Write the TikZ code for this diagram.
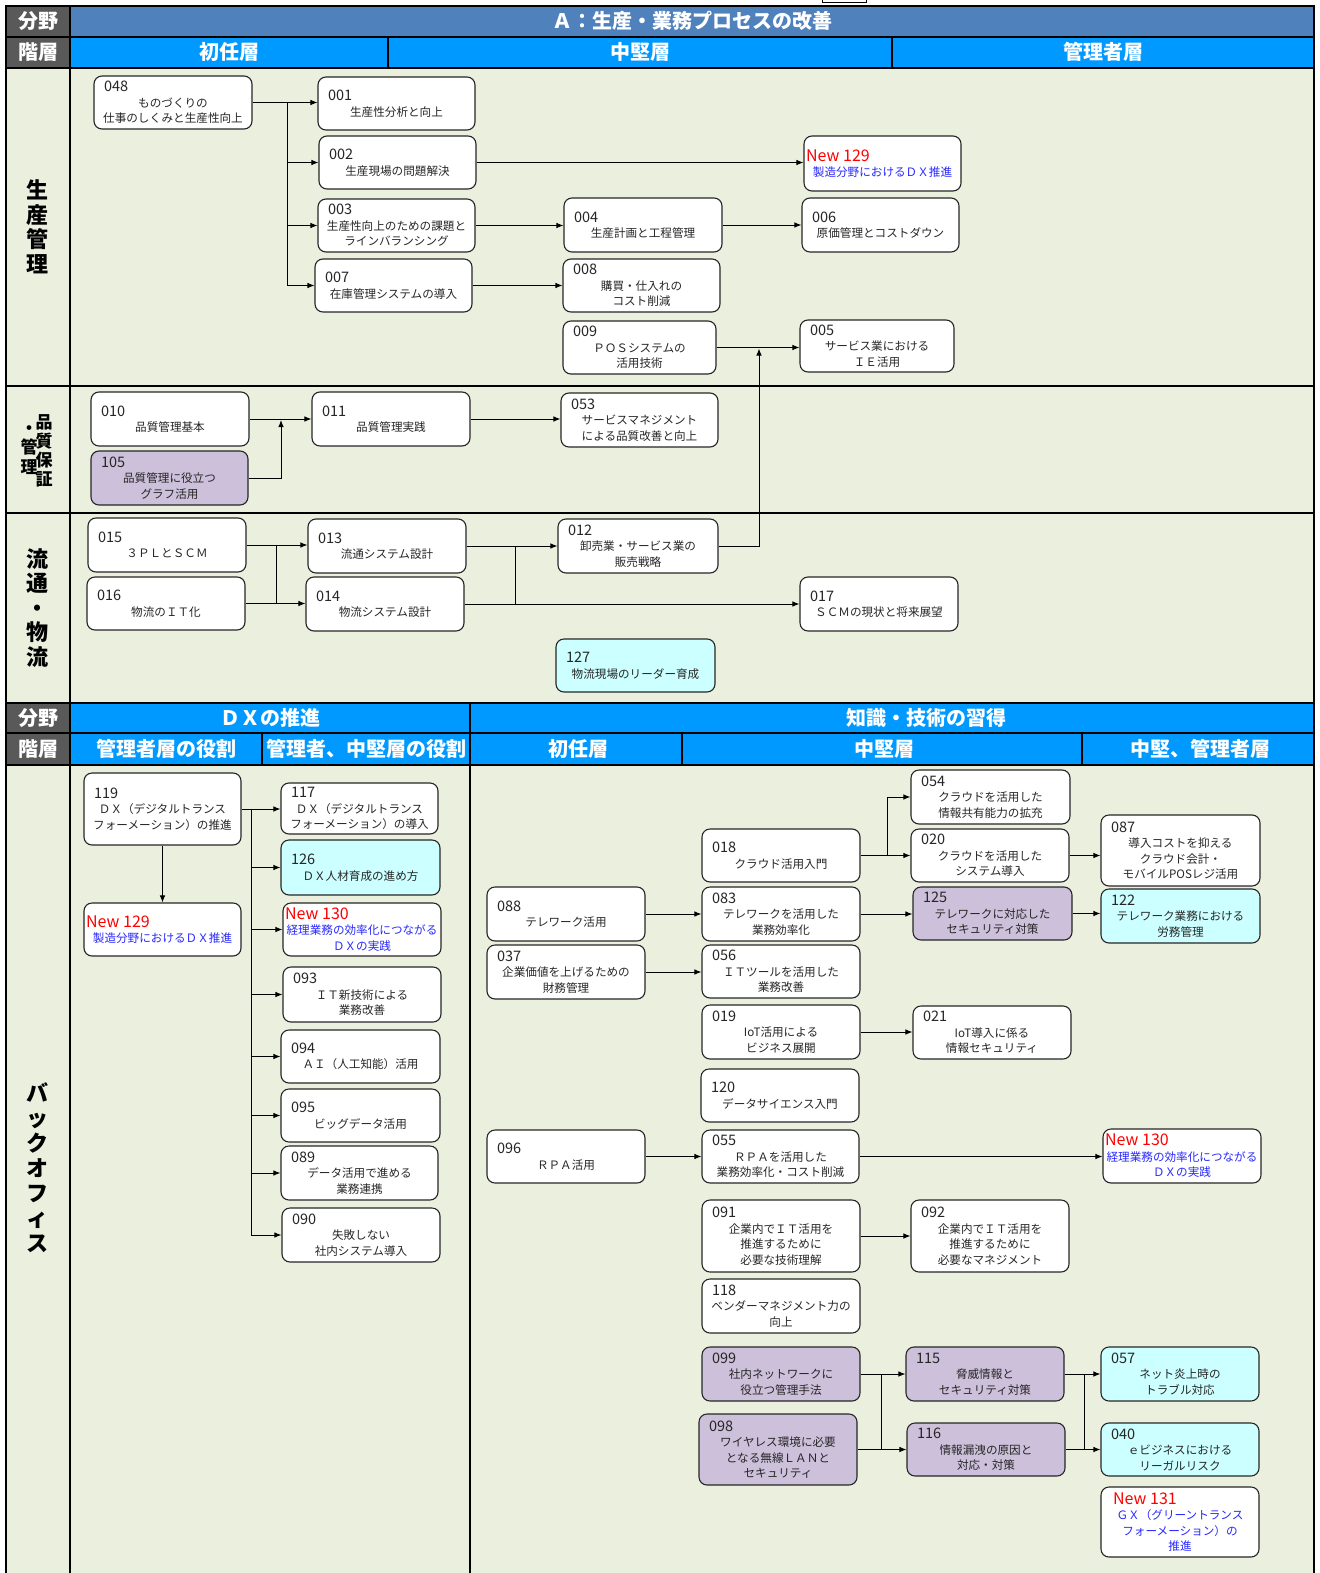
\documentclass[tikz,border=0pt]{standalone}
\usepackage{fontspec}
\setmainfont{Noto Sans CJK JP}
\usetikzlibrary{arrows.meta}
\definecolor{hdrgray}{RGB}{89,89,89}
\definecolor{steel}{RGB}{79,129,189}
\definecolor{bblue}{RGB}{0,153,255}
\definecolor{bgc}{RGB}{235,239,222}
\definecolor{purp}{RGB}{204,192,218}
\definecolor{cyanf}{RGB}{204,255,255}
\definecolor{newred}{RGB}{255,0,0}
\definecolor{newblue}{RGB}{40,40,255}
\tikzset{
 box/.style={draw=black!85, line width=1.1pt, rounded corners=8pt, inner sep=0pt, align=center, font=\fontsize{11.6}{15.5}\selectfont, text=black!85},
 arr/.style={-{Latex[length=7pt,width=5.5pt]}, line width=0.9pt},
 ln/.style={line width=0.9pt},
 gridl/.style={line width=2.4pt},
 hdr/.style={text=white, inner sep=0pt, font=\bfseries\fontsize{20}{22}\selectfont},
 vlab/.style={align=center, inner sep=0pt, font=\bfseries\fontsize{22}{24.5}\selectfont},
}
\newcommand\bx[8]{\node[box,fill=#6,minimum width={(#4-#2)*1pt},minimum height={(#5-#3)*1pt},text width={(#4-#2-4)*1pt}] (#1) at ({(#2+#4)/2},{(#3+#5)/2}) {\makebox[\hsize][l]{\hspace*{8pt}\fontsize{14.5}{15.5}\selectfont #7}\\#8};}
\newcommand\bxn[8]{\node[box,fill=white,minimum width={(#4-#2)*1pt},minimum height={(#5-#3)*1pt},text width={(#4-#2-4)*1pt}] (#1) at ({(#2+#4)/2},{(#3+#5)/2}) {\makebox[\hsize][l]{\hspace*{#8}\textcolor{newred}{\fontsize{16}{17}\selectfont New #6}}\\{\color{newblue}#7}};}
\begin{document}
\begin{tikzpicture}[x=1pt,y=-1pt]
\useasboundingbox (0,0) rectangle (1319,1573);
% backgrounds
\fill[hdrgray] (6,6) rectangle (70,68);
\fill[hdrgray] (6,703) rectangle (70,765);
\fill[steel] (70,6) rectangle (1314,37);
\fill[bblue] (70,37) rectangle (1314,68);
\fill[bblue] (70,703) rectangle (1314,765);
\fill[bgc] (6,68) rectangle (1314,703);
\fill[bgc] (6,765) rectangle (1314,1573);
% small clipped box on top
\draw[line width=1pt, fill=white] (822,-3) rectangle (866,3);
% grid lines
\draw[gridl] (4.8,6) -- (1315.2,6);
\foreach \yy in {37,68,386,513,703,733,765} {\draw[gridl] (6,\yy) -- (1314,\yy);}
\draw[gridl] (6,6) -- (6,1573);
\draw[gridl] (70,6) -- (70,1573);
\draw[gridl] (1314,6) -- (1314,1573);
\draw[gridl] (388,37) -- (388,68);
\draw[gridl] (892,37) -- (892,68);
\draw[gridl] (470,703) -- (470,1573);
\draw[gridl] (262,733) -- (262,765);
\draw[gridl] (682,733) -- (682,765);
\draw[gridl] (1082,733) -- (1082,765);
% header texts
\node[hdr] (h1) at (38,21) {分野};
\node[hdr] (h2) at (38,52) {階層};
\node[hdr] (h3) at (692,21) {Ａ：生産・業務プロセスの改善};
\node[hdr] (h4) at (229,52) {初任層};
\node[hdr] (h5) at (640,52) {中堅層};
\node[hdr] (h6) at (1103,52) {管理者層};
\node[hdr] (h7) at (38,718) {分野};
\node[hdr] (h8) at (38,749) {階層};
\node[hdr] (h9) at (270,718) {ＤＸの推進};
\node[hdr] (h10) at (926,718) {知識・技術の習得};
\node[hdr] (h11) at (166,749) {管理者層の役割};
\node[hdr] (h12) at (366,749) {管理者、中堅層の役割};
\node[hdr] (h13) at (578,749) {初任層};
\node[hdr] (h14) at (884,749) {中堅層};
\node[hdr] (h15) at (1200,749) {中堅、管理者層};
% vertical labels
\node[vlab] (v1) at (38,227) {生\\産\\管\\理};
\node[vlab, font=\bfseries\fontsize{17}{19}\selectfont] (v2a) at (44,451) {品\\質\\保\\証};
\node[vlab, font=\bfseries\fontsize{17}{19.5}\selectfont] (v2b) at (29,450) {・\\管\\理};
\node[vlab] (v3) at (38,608) {流\\通\\・\\物\\流};
\node[vlab, font=\bfseries\fontsize{22}{25}\selectfont] (v4) at (38,1168) {バ\\ッ\\ク\\オ\\フ\\ィ\\ス};
% ---- section 1
\bx{n048}{94}{76}{252}{129}{white}{048}{ものづくりの\\仕事のしくみと生産性向上}
\bx{n001}{318}{77}{475}{130}{white}{001}{生産性分析と向上}
\bx{n002}{319}{136}{476}{189}{white}{002}{生産現場の問題解決}
\bx{n003}{318}{199}{475}{252}{white}{003}{生産性向上のための課題と\\ラインバランシング}
\bx{n007}{315}{259}{472}{312}{white}{007}{在庫管理システムの導入}
\bx{n004}{564}{198}{722}{252}{white}{004}{生産計画と工程管理}
\bx{n008}{563}{259}{720}{312}{white}{008}{購買・仕入れの\\コスト削減}
\bx{n009}{563}{321}{716}{374}{white}{009}{ＰＯＳシステムの\\活用技術}
\bxn{n129a}{804}{136}{961}{191}{129}{製造分野におけるＤＸ推進}{0pt}
\bx{n006}{802}{198}{959}{252}{white}{006}{原価管理とコストダウン}
\bx{n005}{800}{320}{954}{372}{white}{005}{サービス業における\\ＩＥ活用}
% ---- section 2
\bx{n010}{91}{392}{249}{446}{white}{010}{品質管理基本}
\bx{n105}{91}{451}{248}{505}{purp}{105}{品質管理に役立つ\\グラフ活用}
\bx{n011}{312}{392}{470}{446}{white}{011}{品質管理実践}
\bx{n053}{561}{393}{718}{447}{white}{053}{サービスマネジメント\\による品質改善と向上}
% ---- section 3
\bx{n015}{88}{518}{246}{572}{white}{015}{３ＰＬとＳＣＭ}
\bx{n016}{87}{577}{245}{630}{white}{016}{物流のＩＴ化}
\bx{n013}{308}{519}{466}{573}{white}{013}{流通システム設計}
\bx{n014}{306}{577}{464}{631}{white}{014}{物流システム設計}
\bx{n012}{558}{519}{718}{573}{white}{012}{卸売業・サービス業の\\販売戦略}
\bx{n017}{800}{577}{958}{631}{white}{017}{ＳＣＭの現状と将来展望}
\bx{n127}{556}{639}{715}{692}{cyanf}{127}{物流現場のリーダー育成}
% ---- DX
\bx{n119}{84}{773}{241}{845}{white}{119}{ＤＸ（デジタルトランス\\フォーメーション）の推進}
\bxn{n129b}{84}{903}{241}{956}{129}{製造分野におけるＤＸ推進}{0pt}
\bx{n117}{281}{783}{438}{834}{white}{117}{ＤＸ（デジタルトランス\\フォーメーション）の導入}
\bx{n126}{281}{840}{440}{895}{cyanf}{126}{ＤＸ人材育成の進め方}
\bxn{n130a}{283}{903}{441}{956}{130}{経理業務の効率化につながる\\ＤＸの実践}{0pt}
\bx{n093}{283}{967}{441}{1022}{white}{093}{ＩＴ新技術による\\業務改善}
\bx{n094}{281}{1030}{440}{1083}{white}{094}{ＡＩ（人工知能）活用}
\bx{n095}{281}{1089}{440}{1142}{white}{095}{ビッグデータ活用}
\bx{n089}{281}{1146}{438}{1200}{white}{089}{データ活用で進める\\業務連携}
\bx{n090}{282}{1208}{440}{1262}{white}{090}{失敗しない\\社内システム導入}
% ---- knowledge
\bx{n054}{911}{770}{1070}{824}{white}{054}{クラウドを活用した\\情報共有能力の拡充}
\bx{n018}{702}{829}{860}{882}{white}{018}{クラウド活用入門}
\bx{n020}{911}{829}{1069}{882}{white}{020}{クラウドを活用した\\システム導入}
\bx{n087}{1101}{815}{1260}{886}{white}{087}{導入コストを抑える\\クラウド会計・\\モバイルPOSレジ活用}
\bx{n088}{487}{887}{645}{941}{white}{088}{テレワーク活用}
\bx{n083}{702}{887}{860}{941}{white}{083}{テレワークを活用した\\業務効率化}
\bx{n125}{913}{887}{1072}{940}{purp}{125}{テレワークに対応した\\セキュリティ対策}
\bx{n122}{1101}{889}{1260}{943}{cyanf}{122}{テレワーク業務における\\労務管理}
\bx{n037}{487}{945}{645}{999}{white}{037}{企業価値を上げるための\\財務管理}
\bx{n056}{702}{945}{860}{998}{white}{056}{ＩＴツールを活用した\\業務改善}
\bx{n019}{702}{1005}{860}{1059}{white}{019}{IoT活用による\\ビジネス展開}
\bx{n021}{913}{1006}{1071}{1059}{white}{021}{IoT導入に係る\\情報セキュリティ}
\bx{n120}{701}{1069}{859}{1122}{white}{120}{データサイエンス入門}
\bx{n096}{487}{1130}{645}{1183}{white}{096}{ＲＰＡ活用}
\bx{n055}{702}{1130}{859}{1183}{white}{055}{ＲＰＡを活用した\\業務効率化・コスト削減}
\bxn{n130b}{1103}{1129}{1261}{1183}{130}{経理業務の効率化につながる\\ＤＸの実践}{0pt}
\bx{n091}{702}{1200}{860}{1272}{white}{091}{企業内でＩＴ活用を\\推進するために\\必要な技術理解}
\bx{n092}{911}{1200}{1069}{1272}{white}{092}{企業内でＩＴ活用を\\推進するために\\必要なマネジメント}
\bx{n118}{702}{1279}{860}{1333}{white}{118}{ベンダーマネジメント力の\\向上}
\bx{n099}{702}{1347}{860}{1401}{purp}{099}{社内ネットワークに\\役立つ管理手法}
\bx{n098}{699}{1414}{857}{1485}{purp}{098}{ワイヤレス環境に必要\\となる無線ＬＡＮと\\セキュリティ}
\bx{n115}{906}{1347}{1064}{1401}{purp}{115}{脅威情報と\\セキュリティ対策}
\bx{n116}{907}{1423}{1065}{1476}{purp}{116}{情報漏洩の原因と\\対応・対策}
\bx{n057}{1101}{1347}{1259}{1401}{cyanf}{057}{ネット炎上時の\\トラブル対応}
\bx{n040}{1101}{1423}{1259}{1476}{cyanf}{040}{ｅビジネスにおける\\リーガルリスク}
\bxn{n131}{1101}{1487}{1259}{1557}{131}{ＧＸ（グリーントランス\\フォーメーション）の\\推進}{10pt}
% ---- connectors
\coordinate (x287) at (287,0);
\coordinate (x276) at (276,0);
\coordinate (x515) at (515,0);
\coordinate (x251) at (251,0);
\coordinate (x887) at (887,0);
\coordinate (x881) at (881,0);
\coordinate (x1084) at (1084,0);
\coordinate (j1) at (759,348.5);
\coordinate (j2) at (281,420);
% sec1
\draw[arr] (n048.east) -- (n048.east -| n001.west);
\draw[ln] (n048.east -| x287) -- (n007.west -| x287);
\draw[arr] (n002.west -| x287) -- (n002.west);
\draw[arr] (n003.west -| x287) -- (n003.west);
\draw[arr] (n007.west -| x287) -- (n007.west);
\draw[arr] (n002.east) -- (n002.east -| n129a.west);
\draw[arr] (n003.east) -- (n003.east -| n004.west);
\draw[arr] (n004.east) -- (n004.east -| n006.west);
\draw[arr] (n007.east) -- (n007.east -| n008.west);
\draw[arr] (n009.east) -- (n009.east -| n005.west);
\draw[arr] (n012.east) -| (j1);
% sec2
\draw[arr] (n010.east) -- (n010.east -| n011.west);
\draw[arr] (n105.east) -| (j2);
\draw[arr] (n011.east) -- (n011.east -| n053.west);
% sec3
\draw[arr] (n015.east) -- (n015.east -| n013.west);
\draw[arr] (n016.east) -- (n016.east -| n014.west);
\draw[ln] (n015.east -| x276) -- (n016.east -| x276);
\draw[arr] (n013.east) -- (n013.east -| n012.west);
\draw[arr] (n014.east) -- (n014.east -| n017.west);
\draw[ln] (n013.east -| x515) -- (n014.east -| x515);
% DX
\draw[arr] (n119.south) -- (n129b.north);
\draw[arr] (n119.east) -- (n119.east -| n117.west);
\draw[ln] (n119.east -| x251) -- (n090.west -| x251);
\foreach \nn in {126,130a,093,094,095,089,090} {\draw[arr] (n\nn.west -| x251) -- (n\nn.west);}
% knowledge
\draw[arr] (n018.east) -- (n018.east -| n020.west);
\draw[arr] (n018.east -| x887) |- (n054.west);
\draw[arr] (n020.east) -- (n020.east -| n087.west);
\draw[arr] (n088.east) -- (n088.east -| n083.west);
\draw[arr] (n083.east) -- (n083.east -| n125.west);
\draw[arr] (n125.east) -- (n125.east -| n122.west);
\draw[arr] (n037.east) -- (n037.east -| n056.west);
\draw[arr] (n019.east) -- (n019.east -| n021.west);
\draw[arr] (n096.east) -- (n096.east -| n055.west);
\draw[arr] (n055.east) -- (n055.east -| n130b.west);
\draw[arr] (n091.east) -- (n091.east -| n092.west);
\draw[arr] (n099.east) -- (n099.east -| n115.west);
\draw[arr] (n098.east) -- (n098.east -| n116.west);
\draw[ln] (n099.east -| x881) -- (n098.east -| x881);
\draw[arr] (n115.east) -- (n115.east -| n057.west);
\draw[arr] (n116.east) -- (n116.east -| n040.west);
\draw[ln] (n115.east -| x1084) -- (n116.east -| x1084);
\end{tikzpicture}
\end{document}
